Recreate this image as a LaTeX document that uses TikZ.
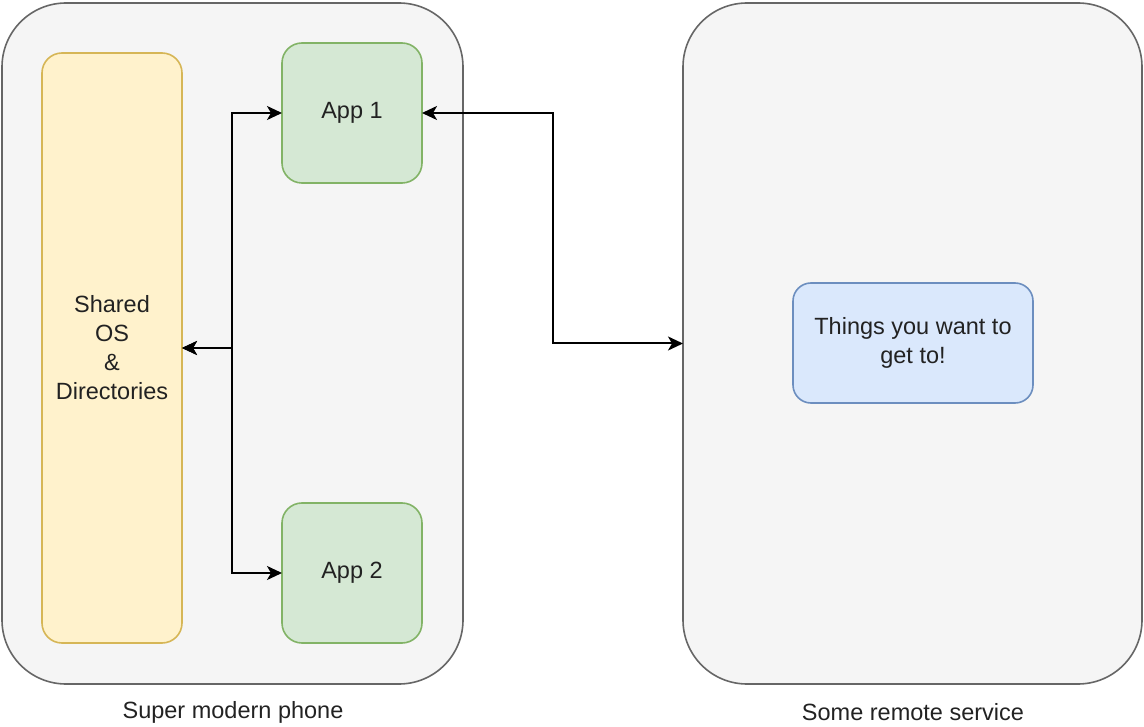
\documentclass[tikz,border=0pt]{standalone}
\usepackage{fontspec}
\setmainfont{Liberation Sans}
\usetikzlibrary{arrows.meta}
\definecolor{grayfill}{HTML}{F5F5F5}
\definecolor{graystroke}{HTML}{666666}
\definecolor{yelfill}{HTML}{FFF2CC}
\definecolor{yelstroke}{HTML}{D6B656}
\definecolor{grnfill}{HTML}{D5E8D4}
\definecolor{grnstroke}{HTML}{82B366}
\definecolor{blufill}{HTML}{DAE8FC}
\definecolor{blustroke}{HTML}{6C8EBF}
\definecolor{txt}{HTML}{222222}
\tikzset{
  box/.style={draw, line width=1.6pt, align=center, inner sep=0pt, outer sep=0pt, text=txt,
    font=\fontsize{23.5}{29}\selectfont},
  container/.style={box, fill=grayfill, draw=graystroke, rounded corners=64pt},
  osbox/.style={box, fill=yelfill, draw=yelstroke, rounded corners=20pt},
  appbox/.style={box, fill=grnfill, draw=grnstroke, rounded corners=20pt,
    minimum width=140pt, minimum height=140pt},
  thingbox/.style={box, fill=blufill, draw=blustroke, rounded corners=18pt},
  caption/.style={text=txt, font=\fontsize{23.5}{29}\selectfont, inner sep=0pt},
  conn/.style={line width=2pt, black, {Stealth[length=15pt,width=14pt,inset=4pt]}-{Stealth[length=15pt,width=14pt,inset=4pt]}},
}
\begin{document}
\begin{tikzpicture}[x=1pt,y=-1pt]
\useasboundingbox (0,0) rectangle (1144,727);
\node[container, minimum width=461pt, minimum height=681pt] (phone) at (232.5,343.5) {};
\node[container, minimum width=459pt, minimum height=681pt] (remote) at (912.5,343.5) {};
\node[osbox, minimum width=140pt, minimum height=590pt] (os) at (112,348) {Shared\\OS\\\&\\Directories};
\node[appbox] (app1) at (352,113) {App 1};
\node[appbox] (app2) at (352,573) {App 2};
\node[thingbox, minimum width=240pt, minimum height=120pt] (things) at (913,343) {Things you want to\\get to!};
\node[caption] (phonelbl) at (233,712) {Super modern phone};
\node[caption] (remotelbl) at (913,712) {Some remote service};
\draw[conn] (os.east) -- ++(50,0) |- (app1.west);
\draw[conn] (os.east) -- ++(50,0) |- (app2.west);
\draw[conn] (app1.east) -- ++(131,0) |- (remote.west);
\end{tikzpicture}
\end{document}
